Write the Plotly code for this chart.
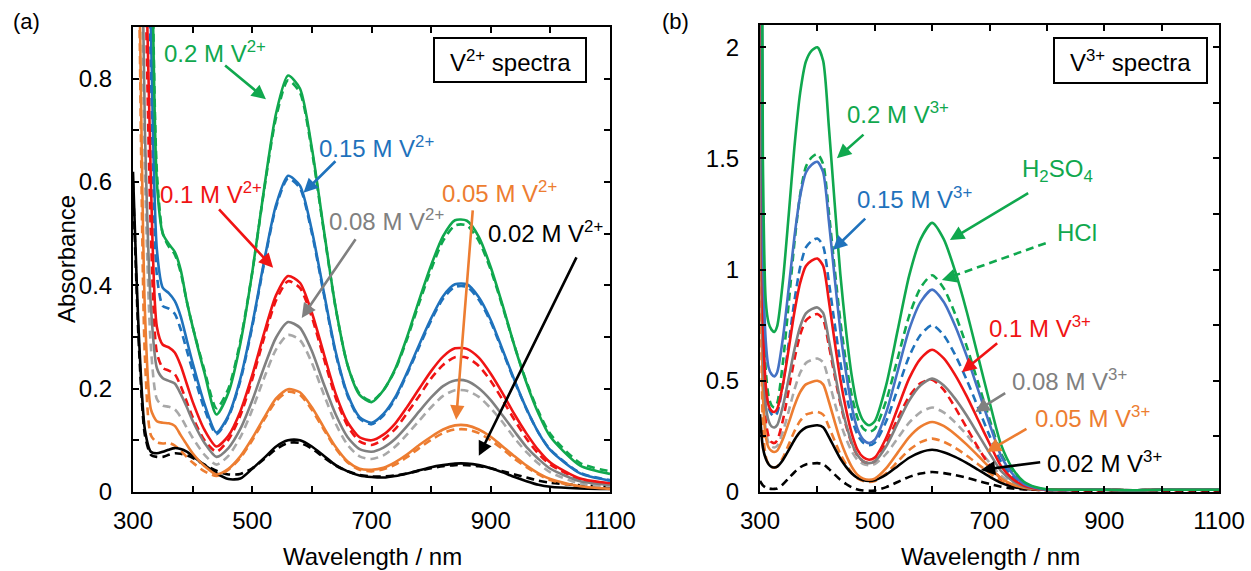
import plotly.graph_objects as go

# ---------------- data: panel (a) V2+ spectra ----------------
wl_a = [300, 310, 320, 330, 340, 350, 360, 370, 380, 390, 400,
        420, 440, 460, 480, 500, 520, 540, 560, 580, 600,
        620, 640, 660, 680, 700, 720, 740, 760, 780, 800,
        820, 840, 860, 880, 900, 920, 940, 960, 980, 1000,
        1050, 1100]

a_020_s = [3.0, 2.5, 1.9, 1.2, 0.6, 0.5, 0.48, 0.465, 0.43, 0.37, 0.32,
           0.23, 0.15, 0.192, 0.287, 0.425, 0.588, 0.733, 0.806, 0.781, 0.666,
           0.508, 0.356, 0.245, 0.188, 0.174, 0.197, 0.239, 0.301, 0.372, 0.439,
           0.495, 0.526, 0.525, 0.494, 0.435, 0.361, 0.282, 0.211, 0.152, 0.107,
           0.051, 0.035]
a_020_d = [3.0, 2.5, 1.9, 1.2, 0.62, 0.5, 0.475, 0.46, 0.425, 0.37, 0.32,
           0.235, 0.162, 0.2, 0.292, 0.425, 0.585, 0.725, 0.797, 0.773, 0.66,
           0.505, 0.355, 0.245, 0.19, 0.176, 0.197, 0.237, 0.297, 0.366, 0.431,
           0.486, 0.516, 0.516, 0.486, 0.43, 0.358, 0.282, 0.213, 0.156, 0.112,
           0.056, 0.04]
a_015_s = [2.8, 2.2, 1.5, 0.9, 0.47, 0.395, 0.385, 0.37, 0.34, 0.295, 0.25,
           0.17, 0.115, 0.148, 0.219, 0.324, 0.447, 0.556, 0.612, 0.593, 0.506,
           0.387, 0.271, 0.189, 0.145, 0.134, 0.151, 0.184, 0.232, 0.285, 0.336,
           0.379, 0.402, 0.402, 0.377, 0.333, 0.275, 0.216, 0.161, 0.115, 0.081,
           0.036, 0.022]
a_015_d = [2.8, 2.2, 1.45, 0.82, 0.42, 0.36, 0.355, 0.345, 0.315, 0.275, 0.235,
           0.16, 0.112, 0.145, 0.215, 0.32, 0.443, 0.552, 0.607, 0.588, 0.501,
           0.383, 0.267, 0.186, 0.142, 0.131, 0.148, 0.181, 0.229, 0.281, 0.332,
           0.374, 0.397, 0.397, 0.372, 0.329, 0.272, 0.214, 0.16, 0.115, 0.082,
           0.037, 0.023]
a_010_s = [2.6, 1.9, 1.15, 0.6, 0.32, 0.285, 0.28, 0.27, 0.245, 0.21, 0.175,
           0.12, 0.088, 0.109, 0.156, 0.226, 0.308, 0.381, 0.418, 0.405, 0.347,
           0.268, 0.19, 0.135, 0.106, 0.10, 0.111, 0.133, 0.165, 0.20, 0.234,
           0.262, 0.278, 0.277, 0.26, 0.229, 0.191, 0.15, 0.113, 0.081, 0.057,
           0.026, 0.017]
a_010_d = [2.6, 1.85, 1.05, 0.5, 0.27, 0.24, 0.235, 0.228, 0.205, 0.175, 0.145,
           0.10, 0.078, 0.101, 0.148, 0.218, 0.299, 0.371, 0.408, 0.395, 0.338,
           0.259, 0.182, 0.128, 0.098, 0.091, 0.102, 0.122, 0.153, 0.186, 0.22,
           0.246, 0.261, 0.26, 0.244, 0.215, 0.178, 0.139, 0.103, 0.074, 0.053,
           0.024, 0.015]
a_008_s = [2.3, 1.5, 0.7, 0.36, 0.24, 0.22, 0.215, 0.21, 0.19, 0.165, 0.138,
           0.095, 0.068, 0.085, 0.122, 0.177, 0.242, 0.299, 0.329, 0.318, 0.273,
           0.209, 0.15, 0.106, 0.083, 0.078, 0.086, 0.103, 0.128, 0.156, 0.183,
           0.205, 0.216, 0.215, 0.201, 0.178, 0.148, 0.117, 0.087, 0.064, 0.045,
           0.021, 0.014]
a_008_d = [2.3, 1.45, 0.62, 0.28, 0.18, 0.167, 0.165, 0.16, 0.145, 0.125, 0.105,
           0.072, 0.053, 0.07, 0.106, 0.159, 0.221, 0.276, 0.304, 0.294, 0.25,
           0.189, 0.132, 0.091, 0.069, 0.064, 0.071, 0.088, 0.112, 0.138, 0.164,
           0.186, 0.197, 0.196, 0.184, 0.162, 0.135, 0.104, 0.077, 0.055, 0.038,
           0.016, 0.01]
a_005_s = [1.9, 1.05, 0.35, 0.16, 0.137, 0.134, 0.133, 0.128, 0.11, 0.092, 0.075,
           0.05, 0.034, 0.045, 0.069, 0.104, 0.144, 0.181, 0.199, 0.193, 0.164,
           0.125, 0.087, 0.059, 0.045, 0.043, 0.047, 0.058, 0.073, 0.091, 0.107,
           0.121, 0.129, 0.129, 0.121, 0.107, 0.088, 0.069, 0.051, 0.036, 0.025,
           0.011, 0.006]
a_005_d = [1.9, 1.0, 0.26, 0.11, 0.096, 0.094, 0.095, 0.09, 0.08, 0.068, 0.057,
           0.04, 0.031, 0.043, 0.066, 0.10, 0.14, 0.176, 0.194, 0.188, 0.159,
           0.121, 0.084, 0.057, 0.043, 0.04, 0.044, 0.053, 0.068, 0.085, 0.101,
           0.114, 0.121, 0.121, 0.114, 0.10, 0.083, 0.064, 0.048, 0.034, 0.023,
           0.01, 0.006]
a_002_s = [0.62, 0.3, 0.12, 0.078, 0.075, 0.078, 0.082, 0.085, 0.083, 0.078, 0.07,
           0.052, 0.036, 0.025, 0.026, 0.045, 0.066, 0.088, 0.1, 0.1, 0.088,
           0.07, 0.052, 0.04, 0.032, 0.029, 0.028, 0.031, 0.036, 0.042, 0.048,
           0.052, 0.055, 0.055, 0.052, 0.046, 0.038, 0.029, 0.021, 0.014, 0.01,
           0.007, 0.006]
a_002_d = [0.6, 0.28, 0.11, 0.072, 0.068, 0.068, 0.072, 0.075, 0.074, 0.071, 0.066,
           0.053, 0.041, 0.034, 0.035, 0.046, 0.064, 0.083, 0.095, 0.095, 0.084,
           0.067, 0.051, 0.04, 0.033, 0.03, 0.03, 0.032, 0.036, 0.041, 0.046,
           0.05, 0.052, 0.052, 0.05, 0.046, 0.04, 0.034, 0.028, 0.022, 0.018,
           0.013, 0.01]

# ---------------- data: panel (b) V3+ spectra ----------------
wl_b = [300, 305, 310, 315, 320, 325, 330,
        340, 350, 360, 370, 380, 390, 400, 410, 420, 430, 440, 450, 460, 470, 480, 490, 500,
        520, 540, 560, 580, 600, 620, 640, 660, 680, 700, 720, 740, 760, 780, 800,
        850, 900, 950, 1000, 1050, 1100]

b_020_s = [5.0, 1.5, 0.86, 0.76, 0.73, 0.72, 0.746,
           0.95, 1.245, 1.552, 1.795, 1.936, 1.985, 2.0, 1.94, 1.643, 1.303, 0.98, 0.725, 0.521, 0.385, 0.32, 0.30, 0.318,
           0.482, 0.728, 0.973, 1.137, 1.21, 1.138, 0.994, 0.814, 0.61, 0.406, 0.214, 0.106, 0.046, 0.022, 0.012,
           0.01, 0.01, 0.008, 0.01, 0.01, 0.01]
b_020_d = [4.5, 1.0, 0.55, 0.43, 0.39, 0.38, 0.40,
           0.585, 0.847, 1.121, 1.338, 1.463, 1.505, 1.52, 1.475, 1.258, 1.008, 0.77, 0.583, 0.433, 0.333, 0.285, 0.27, 0.284,
           0.411, 0.601, 0.792, 0.919, 0.975, 0.917, 0.801, 0.657, 0.493, 0.328, 0.174, 0.087, 0.039, 0.02, 0.01,
           0.01, 0.01, 0.008, 0.01, 0.01, 0.01]
b_015_s = [4.5, 1.1, 0.68, 0.56, 0.53, 0.52, 0.539,
           0.694, 0.916, 1.147, 1.331, 1.437, 1.472, 1.485, 1.438, 1.219, 0.966, 0.726, 0.536, 0.384, 0.283, 0.235, 0.22, 0.234,
           0.358, 0.544, 0.731, 0.855, 0.91, 0.856, 0.748, 0.613, 0.46, 0.307, 0.163, 0.082, 0.037, 0.019, 0.01,
           0.01, 0.01, 0.008, 0.01, 0.01, 0.01]
b_015_d = [4.0, 0.8, 0.47, 0.38, 0.35, 0.34, 0.356,
           0.484, 0.668, 0.86, 1.012, 1.1, 1.129, 1.14, 1.106, 0.945, 0.759, 0.582, 0.443, 0.331, 0.257, 0.221, 0.21, 0.221,
           0.318, 0.464, 0.61, 0.707, 0.75, 0.706, 0.617, 0.506, 0.38, 0.254, 0.136, 0.069, 0.032, 0.017, 0.01,
           0.01, 0.01, 0.008, 0.01, 0.01, 0.01]
b_010_s = [4.0, 0.8, 0.48, 0.39, 0.365, 0.36, 0.374,
           0.484, 0.643, 0.809, 0.94, 1.016, 1.04, 1.05, 1.017, 0.86, 0.679, 0.507, 0.371, 0.263, 0.19, 0.156, 0.145, 0.155,
           0.244, 0.378, 0.511, 0.6, 0.64, 0.602, 0.527, 0.432, 0.325, 0.218, 0.117, 0.06, 0.029, 0.016, 0.01,
           0.01, 0.01, 0.008, 0.01, 0.01, 0.01]
b_010_d = [3.5, 0.6, 0.32, 0.25, 0.225, 0.22, 0.232,
           0.324, 0.458, 0.597, 0.707, 0.771, 0.792, 0.80, 0.776, 0.659, 0.525, 0.398, 0.298, 0.217, 0.164, 0.138, 0.13, 0.138,
           0.22, 0.33, 0.43, 0.49, 0.505, 0.46, 0.38, 0.29, 0.2, 0.12, 0.06, 0.03, 0.015, 0.01, 0.008,
           0.008, 0.008, 0.006, 0.008, 0.008, 0.008]
b_008_s = [3.5, 0.65, 0.39, 0.32, 0.295, 0.29, 0.301,
           0.387, 0.511, 0.641, 0.744, 0.803, 0.822, 0.83, 0.805, 0.683, 0.543, 0.41, 0.305, 0.221, 0.165, 0.138, 0.13, 0.138,
           0.206, 0.309, 0.411, 0.48, 0.51, 0.48, 0.42, 0.345, 0.26, 0.175, 0.095, 0.05, 0.025, 0.015, 0.01,
           0.01, 0.01, 0.008, 0.01, 0.01, 0.01]
b_008_d = [3.0, 0.5, 0.28, 0.22, 0.205, 0.2, 0.208,
           0.272, 0.364, 0.46, 0.536, 0.58, 0.594, 0.60, 0.583, 0.499, 0.403, 0.312, 0.24, 0.182, 0.144, 0.126, 0.12, 0.125,
           0.172, 0.242, 0.312, 0.359, 0.38, 0.358, 0.313, 0.258, 0.195, 0.132, 0.073, 0.04, 0.021, 0.014, 0.01,
           0.01, 0.01, 0.008, 0.01, 0.01, 0.01]
b_005_s = [3.0, 0.45, 0.25, 0.2, 0.185, 0.18, 0.186,
           0.238, 0.311, 0.388, 0.449, 0.484, 0.495, 0.50, 0.484, 0.407, 0.318, 0.233, 0.166, 0.113, 0.077, 0.06, 0.055, 0.06,
           0.107, 0.177, 0.247, 0.294, 0.315, 0.297, 0.26, 0.214, 0.163, 0.111, 0.062, 0.034, 0.019, 0.013, 0.01,
           0.01, 0.01, 0.008, 0.01, 0.01, 0.01]
b_005_d = [2.5, 0.3, 0.16, 0.125, 0.113, 0.11, 0.115,
           0.155, 0.213, 0.273, 0.32, 0.348, 0.356, 0.36, 0.348, 0.294, 0.231, 0.171, 0.124, 0.086, 0.061, 0.049, 0.045, 0.049,
           0.084, 0.137, 0.189, 0.224, 0.24, 0.226, 0.199, 0.164, 0.125, 0.086, 0.049, 0.028, 0.017, 0.012, 0.01,
           0.01, 0.01, 0.008, 0.01, 0.01, 0.01]
b_002_s = [0.35, 0.2, 0.15, 0.125, 0.113, 0.11, 0.114,
           0.144, 0.188, 0.234, 0.27, 0.29, 0.297, 0.30, 0.291, 0.248, 0.198, 0.15, 0.113, 0.083, 0.063, 0.053, 0.05, 0.053,
           0.078, 0.116, 0.154, 0.179, 0.19, 0.179, 0.158, 0.131, 0.10, 0.069, 0.041, 0.024, 0.015, 0.012, 0.01,
           0.01, 0.01, 0.008, 0.01, 0.01, 0.01]
b_002_d = [0.05, 0.03, 0.02, 0.016, 0.014, 0.014, 0.016,
           0.035, 0.062, 0.089, 0.111, 0.124, 0.128, 0.13, 0.125, 0.104, 0.079, 0.055, 0.036, 0.021, 0.011, 0.007, 0.005, 0.007,
           0.022, 0.045, 0.068, 0.083, 0.09, 0.085, 0.076, 0.064, 0.05, 0.036, 0.024, 0.016, 0.012, 0.01, 0.008,
           0.006, 0.006, 0.005, 0.006, 0.006, 0.006]

x_ticks = [300, 500, 700, 900, 1100]
x_minor = [400, 600, 800, 1000]

# ---------------- styles ----------------
GREEN = '#10A84E'
BLUE = '#1F72BC'
BLUE_B = '#4472C4'
RED = '#F01414'
GRAY = '#808080'
GRAY_L = '#A8A8A8'
ORANGE = '#ED7D31'
BLACK = '#000000'
FONT = 'Liberation Sans, Arial, sans-serif'
W, H = 1251, 571

fig = go.Figure()

def add(x, y, color, dash, xa, ya):
    fig.add_trace(go.Scatter(
        x=x, y=y, mode='lines', xaxis=xa, yaxis=ya, showlegend=False,
        line=dict(color=color, width=2.6, shape='spline', smoothing=0.7,
                  dash='8px,5px' if dash else 'solid')))

series_a = [
    (a_002_d, BLACK, True), (a_005_d, ORANGE, True), (a_008_d, GRAY_L, True),
    (a_010_d, RED, True), (a_015_d, BLUE, True), (a_020_d, GREEN, True),
    (a_002_s, BLACK, False), (a_005_s, ORANGE, False), (a_008_s, GRAY, False),
    (a_010_s, RED, False), (a_015_s, BLUE, False), (a_020_s, GREEN, False),
]
for y, c, d in series_a:
    add(wl_a, y, c, d, 'x', 'y')

series_b = [
    (b_002_d, BLACK, True), (b_005_d, ORANGE, True), (b_008_d, GRAY_L, True),
    (b_010_d, RED, True), (b_015_d, BLUE, True), (b_020_d, GREEN, True),
    (b_002_s, BLACK, False), (b_005_s, ORANGE, False), (b_008_s, GRAY, False),
    (b_010_s, RED, False), (b_015_s, BLUE_B, False), (b_020_s, GREEN, False),
]
for y, c, d in series_b:
    add(wl_b, y, c, d, 'x2', 'y2')

def ax_common():
    return dict(showline=True, linecolor='black', linewidth=2, mirror='allticks',
                ticks='inside', ticklen=6, tickwidth=1.6, tickcolor='black',
                showgrid=False, zeroline=False, automargin=False,
                tickfont=dict(family=FONT, size=24, color='black'))

def px(x):
    return x / W

def py(y):
    return 1 - y / H

minor_style = dict(ticks='inside', ticklen=6, tickwidth=1.6, tickcolor='black')

xa = ax_common()
xa.update(range=[300, 1100], tickvals=x_ticks, domain=[px(133), px(610)], anchor='y',
          minor=dict(tickvals=x_minor, **minor_style), ticklabelstandoff=6)
ya = ax_common()
ya.update(range=[0, 0.9], dtick=0.2, domain=[py(492), py(27)], anchor='x',
          minor=dict(dtick=0.1, **minor_style), ticklabelstandoff=14)
xb = ax_common()
xb.update(range=[300, 1100], tickvals=x_ticks, domain=[px(760), px(1219)], anchor='y2',
          minor=dict(tickvals=x_minor, **minor_style), ticklabelstandoff=6)
yb = ax_common()
yb.update(range=[0, 2.1], dtick=0.5, domain=[py(492), py(25)], anchor='x2',
          minor=dict(dtick=0.25, **minor_style), ticklabelstandoff=14)

annotations = []
shapes = []

def label(x, y, text, color, xr, yr, size=24):
    annotations.append(dict(x=x, y=y, xref=xr, yref=yr, text=text, showarrow=False,
                            xanchor='center', yanchor='middle',
                            font=dict(family=FONT, size=size, color=color)))

def arrow(x0, y0, x1, y1, color, xr, yr):
    annotations.append(dict(x=x1, y=y1, ax=x0, ay=y0, xref=xr, yref=yr, axref=xr, ayref=yr,
                            text='', showarrow=True, arrowhead=2, arrowsize=1.1,
                            arrowwidth=2.6, arrowcolor=color, standoff=0))

# panel (a)
label(437, 0.851, '0.2 M V<sup>2+</sup>', GREEN, 'x', 'y')
arrow(452, 0.828, 523, 0.76, GREEN, 'x', 'y')
label(709, 0.667, '0.15 M V<sup>2+</sup>', BLUE, 'x', 'y')
arrow(642, 0.643, 586, 0.579, BLUE, 'x', 'y')
label(431, 0.579, '0.1 M V<sup>2+</sup>', RED, 'x', 'y')
arrow(442, 0.55, 535, 0.434, RED, 'x', 'y')
label(725, 0.527, '0.08 M V<sup>2+</sup>', GRAY, 'x', 'y')
arrow(675, 0.492, 583, 0.337, GRAY, 'x', 'y')
label(915, 0.581, '0.05 M V<sup>2+</sup>', ORANGE, 'x', 'y')
arrow(870, 0.548, 842, 0.14, ORANGE, 'x', 'y')
label(992, 0.504, '0.02 M V<sup>2+</sup>', BLACK, 'x', 'y')
arrow(1045, 0.457, 880, 0.07, BLACK, 'x', 'y')

# panel (b)
label(540, 1.703, '0.2 M V<sup>3+</sup>', GREEN, 'x2', 'y2')
arrow(483, 1.613, 434, 1.501, GREEN, 'x2', 'y2')
label(570, 1.321, '0.15 M V<sup>3+</sup>', BLUE, 'x2', 'y2')
arrow(486, 1.236, 427, 1.088, BLUE, 'x2', 'y2')
label(819, 1.447, 'H<sub>2</sub>SO<sub>4</sub>', GREEN, 'x2', 'y2')
arrow(770, 1.348, 631, 1.133, GREEN, 'x2', 'y2')
label(852, 1.169, 'HCl', GREEN, 'x2', 'y2')
shapes.append(dict(type='line', xref='x2', yref='y2', x0=798, y0=1.119, x1=630, y1=0.965,
                   line=dict(color=GREEN, width=2.6, dash='8px,5px')))
arrow(640, 0.972, 617, 0.953, GREEN, 'x2', 'y2')
label(788, 0.742, '0.1 M V<sup>3+</sup>', RED, 'x2', 'y2')
arrow(716, 0.674, 652, 0.539, RED, 'x2', 'y2')
label(840, 0.503, '0.08 M V<sup>3+</sup>', GRAY, 'x2', 'y2')
arrow(730, 0.449, 675, 0.36, GRAY, 'x2', 'y2')
label(880, 0.337, '0.05 M V<sup>3+</sup>', ORANGE, 'x2', 'y2')
arrow(767, 0.288, 695, 0.18, ORANGE, 'x2', 'y2')
label(901, 0.135, '0.02 M V<sup>3+</sup>', BLACK, 'x2', 'y2')
arrow(791, 0.135, 685, 0.099, BLACK, 'x2', 'y2')

# boxes with spectra titles
shapes.append(dict(type='rect', xref='paper', yref='paper', x0=px(434), x1=px(586),
                   y0=py(82), y1=py(38), line=dict(color='black', width=2)))
label(px(510), py(61), 'V<sup>2+</sup> spectra', BLACK, 'paper', 'paper')
shapes.append(dict(type='rect', xref='paper', yref='paper', x0=px(1054), x1=px(1207),
                   y0=py(83), y1=py(38), line=dict(color='black', width=2)))
label(px(1130), py(61), 'V<sup>3+</sup> spectra', BLACK, 'paper', 'paper')

# panel letters and axis titles
label(px(26), py(21), '(a)', BLACK, 'paper', 'paper', size=22)
label(px(675), py(22), '(b)', BLACK, 'paper', 'paper', size=22)
label(px(372), py(556), 'Wavelength / nm', BLACK, 'paper', 'paper')
label(px(990), py(556), 'Wavelength / nm', BLACK, 'paper', 'paper')
annotations.append(dict(x=px(66), y=py(259), xref='paper', yref='paper', text='Absorbance',
                        showarrow=False, textangle=-90, xanchor='center', yanchor='middle',
                        font=dict(family=FONT, size=24, color='black')))

fig.update_layout(
    width=W, height=H, margin=dict(l=0, r=0, t=0, b=0, autoexpand=False),
    paper_bgcolor='white', plot_bgcolor='white',
    xaxis=xa, yaxis=ya, xaxis2=xb, yaxis2=yb,
    annotations=annotations, shapes=shapes, showlegend=False,
    font=dict(family=FONT, size=24, color='black'),
)

fig.write_html('out.html')
